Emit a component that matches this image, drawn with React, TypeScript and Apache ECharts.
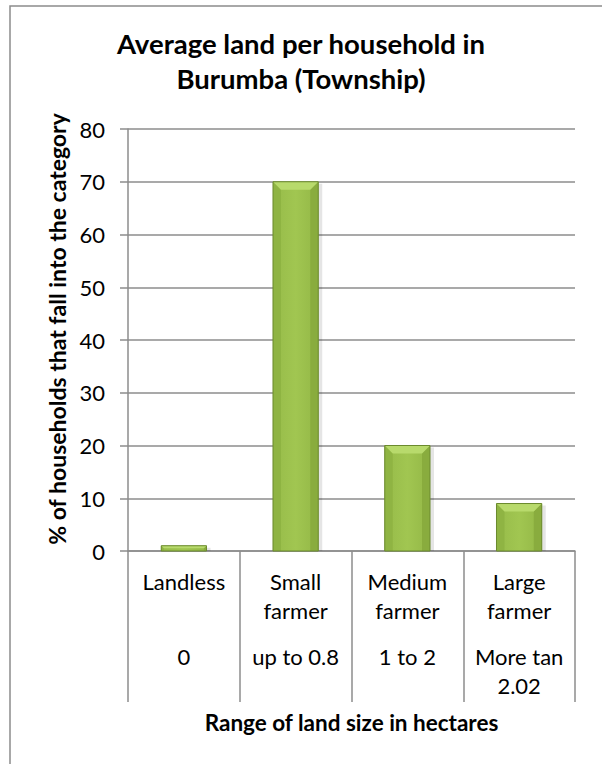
import React, { useEffect, useRef } from "react";
import * as echarts from "echarts";

const categories = ["Landless", "Small\nfarmer", "Medium\nfarmer", "Large\nfarmer"];
const ranges = ["0", "up to 0.8", "1 to 2", "More tan\n2.02"];
const values = [1, 70, 20, 9];
const yTicks = { min: 0, max: 80, interval: 10 };

const FONT = "Lato";

export default function App() {
  const ref = useRef<HTMLDivElement>(null);
  useEffect(() => {
    if (!ref.current) return;
    const chart = echarts.init(ref.current, null, { renderer: "svg" });
    const option: any = {
      animation: false,
      backgroundColor: "#ffffff",
      textStyle: { fontFamily: FONT },
      title: {
        text: "Average land per household in\nBurumba (Township)",
        left: "center",
        top: 26,
        padding: [0, 0, 0, 10],
        textStyle: { fontFamily: FONT, fontWeight: "bold", fontSize: 27.5, lineHeight: 35, color: "#000" },
      },
      graphic: [
        {
          type: "rect",
          shape: { x: 10, y: 6, width: 800, height: 900 },
          style: { fill: "none", stroke: "#8c8c8c", lineWidth: 1.5 },
          silent: true,
          z: -1,
        },
      ],
      grid: { left: 128, right: 27, top: 129, bottom: 213, containLabel: false },
      xAxis: [
        {
          type: "category",
          data: categories,
          position: "bottom",
          axisLine: { show: true, lineStyle: { color: "#8c8c8c", width: 1.5 } },
          axisTick: { show: true, length: 151, interval: 0, lineStyle: { color: "#8c8c8c", width: 1.5 } },
          axisLabel: { interval: 0, margin: 16, fontSize: 22, lineHeight: 29, color: "#000", fontFamily: FONT, verticalAlign: "top" },
          name: "Range of land size in hectares",
          nameLocation: "middle",
          nameGap: 160,
          nameTextStyle: { fontFamily: FONT, fontWeight: "bold", fontSize: 22.5, color: "#000", verticalAlign: "top" },
        },
        {
          type: "category",
          data: ranges,
          position: "bottom",
          gridIndex: 0,
          axisLine: { show: false },
          axisTick: { show: false },
          splitLine: { show: false },
          axisLabel: { interval: 0, margin: 91, fontSize: 22, lineHeight: 29, color: "#000", fontFamily: FONT, verticalAlign: "top" },
        },
      ],
      yAxis: {
        type: "value",
        min: yTicks.min,
        max: yTicks.max,
        interval: yTicks.interval,
        axisLine: { show: true, lineStyle: { color: "#8c8c8c", width: 1.5 } },
        axisTick: { show: true, length: 8, lineStyle: { color: "#8c8c8c", width: 1.5 } },
        splitLine: { show: true, lineStyle: { color: "#8c8c8c", width: 1.5 } },
        axisLabel: { margin: 23, fontSize: 22, color: "#000", fontFamily: FONT },
        name: "% of households that fall into the category",
        nameLocation: "middle",
        nameGap: 56,
        nameRotate: 90,
        nameTextStyle: { fontFamily: FONT, fontWeight: "bold", fontSize: 23, color: "#000", padding: [0, 0, 0, 22] },
      },
      series: [
        {
          type: "custom",
          xAxisIndex: 0,
          yAxisIndex: 0,
          data: values.map((v, i) => [i, v]),
          encode: { x: 0, y: 1 },
          renderItem: (params: any, api: any) => {
            const idx = api.value(0);
            const v = api.value(1);
            const top = api.coord([idx, v]);
            const base = api.coord([idx, 0]);
            const w = api.size([1, 0])[0] * 0.405;
            const x0 = top[0] - w / 2;
            const x1 = top[0] + w / 2;
            const y0 = top[1];
            const y1 = base[1];
            const h = y1 - y0;
            const b = Math.max(1, Math.min(8, h / 2, w / 2));
            return {
              type: "group",
              children: [
                {
                  type: "rect",
                  shape: { x: x0 + 2, y: y0 + 2, width: w + 2, height: h - 2 },
                  style: { fill: "rgba(0,0,0,0.10)" },
                },
                {
                  type: "rect",
                  shape: { x: x0, y: y0, width: w, height: h },
                  style: {
                    fill: new echarts.graphic.LinearGradient(0, 0, 1, 0, [
                      { offset: 0, color: "#96bb49" },
                      { offset: 0.5, color: "#a1c651" },
                      { offset: 1, color: "#93b746" },
                    ]),
                  },
                },
                {
                  type: "polygon",
                  shape: { points: [[x0, y0], [x0 + b, y0 + b], [x0 + b, y1], [x0, y1]] },
                  style: { fill: "#8fb443" },
                },
                {
                  type: "polygon",
                  shape: { points: [[x1, y0], [x1 - b, y0 + b], [x1 - b, y1], [x1, y1]] },
                  style: { fill: "#89ac3e" },
                },
                {
                  type: "polygon",
                  shape: { points: [[x0, y0], [x1, y0], [x1 - b, y0 + b], [x0 + b, y0 + b]] },
                  style: { fill: "#b8da6c" },
                },
                {
                  type: "rect",
                  shape: { x: x0, y: y0, width: w, height: h },
                  style: { fill: "none", stroke: "#6b8a2e", lineWidth: 1 },
                },
              ],
            };
          },
        },
      ],
    };
    chart.setOption(option);
    return () => chart.dispose();
  }, []);
  return <div ref={ref} style={{ position: "fixed", left: 0, top: 0, width: 602, height: 764 }} />;
}
